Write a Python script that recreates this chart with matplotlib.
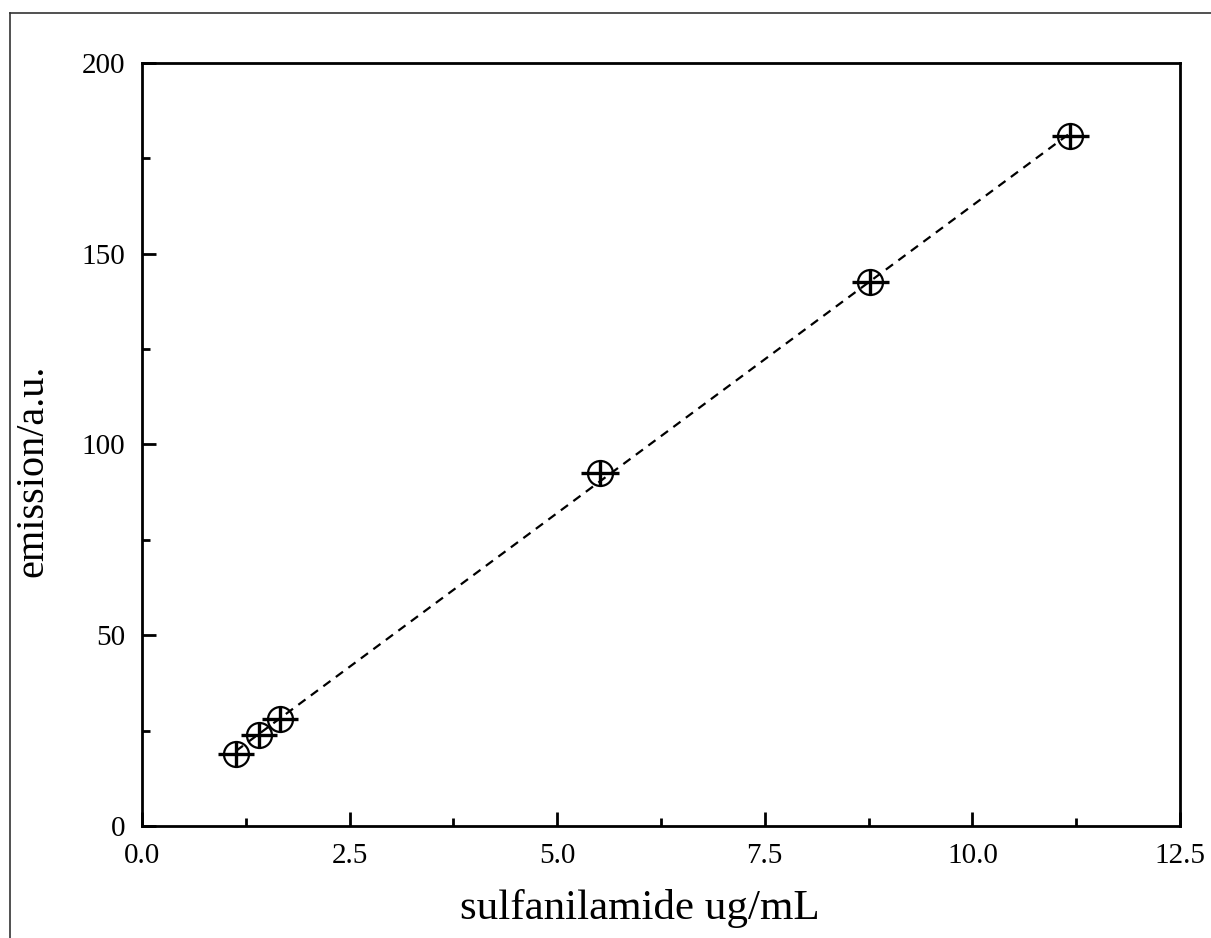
import numpy as np
import matplotlib
matplotlib.use("Agg")
import matplotlib.pyplot as plt
from matplotlib.lines import Line2D
from matplotlib.ticker import MultipleLocator

# data
conc = [1.13, 1.41, 1.66, 5.52, 8.77, 11.18]          # sulfanilamide ug/mL
emission = [18.9, 23.9, 28.0, 92.6, 142.6, 180.9]     # emission / a.u.
conc_err = [0.22, 0.22, 0.22, 0.23, 0.22, 0.22]
emis_err = [3.2, 3.2, 3.2, 3.2, 3.2, 3.2]


def main():
    plt.rcParams['font.family'] = ['Liberation Serif', 'DejaVu Serif']
    fig = plt.figure(figsize=(12.11, 9.38), dpi=100)
    ax = fig.add_axes([142 / 1211, 1 - 826 / 938, (1180 - 142) / 1211, (826 - 63) / 938])

    # linear fit
    k, b = np.polyfit(conc, emission, 1)
    xf = np.array([min(conc), max(conc)])
    ax.plot(xf, k * xf + b, '--', color='black', lw=1.6, dashes=(4, 3))

    ax.errorbar(conc, emission, xerr=conc_err, yerr=emis_err, fmt='o',
                mfc='none', mec='black', ms=18, mew=1.6,
                ecolor='black', elinewidth=2.4, capsize=0)

    ax.set_xlim(0, 12.5)
    ax.set_ylim(0, 200)
    ax.xaxis.set_major_locator(MultipleLocator(2.5))
    ax.xaxis.set_minor_locator(MultipleLocator(1.25))
    ax.yaxis.set_major_locator(MultipleLocator(50))
    ax.yaxis.set_minor_locator(MultipleLocator(25))
    ax.xaxis.set_major_formatter(matplotlib.ticker.FormatStrFormatter('%.1f'))
    ax.tick_params(which='both', direction='in', top=False, right=False,
                   labelsize=21, width=2)
    ax.tick_params(which='major', length=10, pad=12)
    ax.tick_params(which='minor', length=6)
    for s in ax.spines.values():
        s.set_linewidth(2)

    ax.set_xlabel('sulfanilamide ug/mL', fontsize=31)
    ax.set_ylabel('emission/a.u.', fontsize=29)
    ax.xaxis.set_label_coords(0.48, -0.082)
    ax.yaxis.set_label_coords(-0.087, 0.465)

    # outer frame (left and top edges visible)
    fig.add_artist(Line2D([10 / 1211, 10 / 1211], [0, 1 - 13 / 938],
                          transform=fig.transFigure, color='#333333', lw=1.2))
    fig.add_artist(Line2D([10 / 1211, 1], [1 - 13 / 938, 1 - 13 / 938],
                          transform=fig.transFigure, color='#333333', lw=1.2))

    fig.savefig('out.png', dpi=100, facecolor='white')


if __name__ == '__main__':
    main()
